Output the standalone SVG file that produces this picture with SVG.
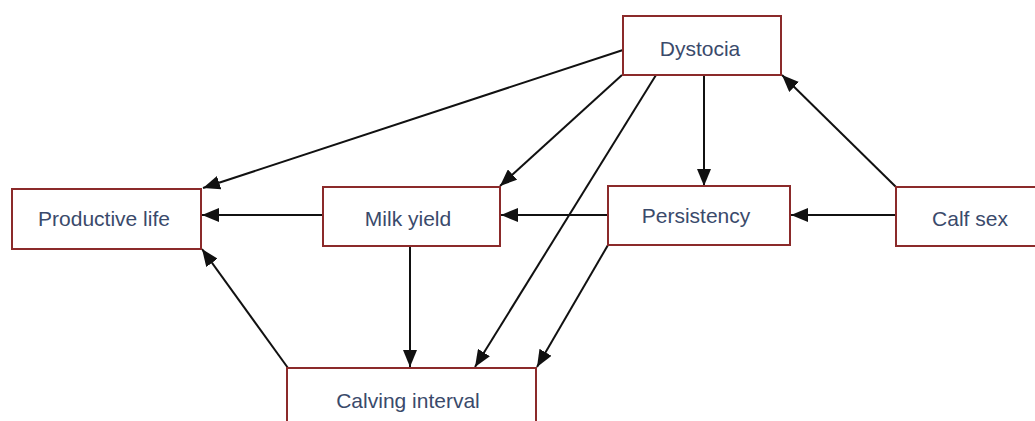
<svg xmlns="http://www.w3.org/2000/svg" width="1035" height="421" viewBox="0 0 1035 421">
<style>
.box{fill:#fff;stroke:#8b2a2a;stroke-width:2}
.lbl{font-family:"Liberation Sans",Arial,sans-serif;font-size:21px;fill:#3a4a6b;text-anchor:middle;dominant-baseline:central}
.edge{stroke:#111;stroke-width:2;fill:none;marker-end:url(#ah)}
</style>
<defs>
<marker id="ah" viewBox="0 0 17 14" refX="17" refY="7" markerWidth="17" markerHeight="14" markerUnits="userSpaceOnUse" orient="auto">
<path d="M0,0 L17,7 L0,14 Z" fill="#111"/>
</marker>
</defs>
<rect width="1035" height="421" fill="#fff"/>
<g id="connectors">
<line class="edge" x1="623" y1="50" x2="203" y2="188"/>
<line class="edge" x1="622" y1="75" x2="500" y2="186"/>
<line class="edge" x1="656" y1="75" x2="475" y2="367"/>
<line class="edge" x1="704" y1="75" x2="704" y2="186"/>
<line class="edge" x1="896" y1="187" x2="782" y2="75"/>
<line class="edge" x1="896" y1="215" x2="791" y2="215"/>
<line class="edge" x1="608" y1="215" x2="501" y2="215"/>
<line class="edge" x1="323" y1="215" x2="202" y2="215"/>
<line class="edge" x1="608" y1="245" x2="537" y2="367"/>
<line class="edge" x1="410" y1="246" x2="410" y2="367"/>
<line class="edge" x1="288" y1="368" x2="202" y2="249"/>
</g>
<g id="dystocia"><rect class="box" x="623" y="16" width="158" height="59"/><text class="lbl" x="700" y="48">Dystocia</text></g>
<g id="productive-life"><rect class="box" x="12" y="189" width="189" height="60"/><text class="lbl" x="104" y="218">Productive life</text></g>
<g id="milk-yield"><rect class="box" x="323" y="187" width="177" height="59"/><text class="lbl" x="408" y="218">Milk yield</text></g>
<g id="persistency"><rect class="box" x="608" y="186" width="182" height="59"/><text class="lbl" x="696" y="215">Persistency</text></g>
<g id="calf-sex"><rect class="box" x="896" y="187" width="150" height="59"/><text class="lbl" x="970" y="218">Calf sex</text></g>
<g id="calving-interval"><rect class="box" x="287" y="368" width="249" height="70"/><text class="lbl" x="408" y="400">Calving interval</text></g>
</svg>
